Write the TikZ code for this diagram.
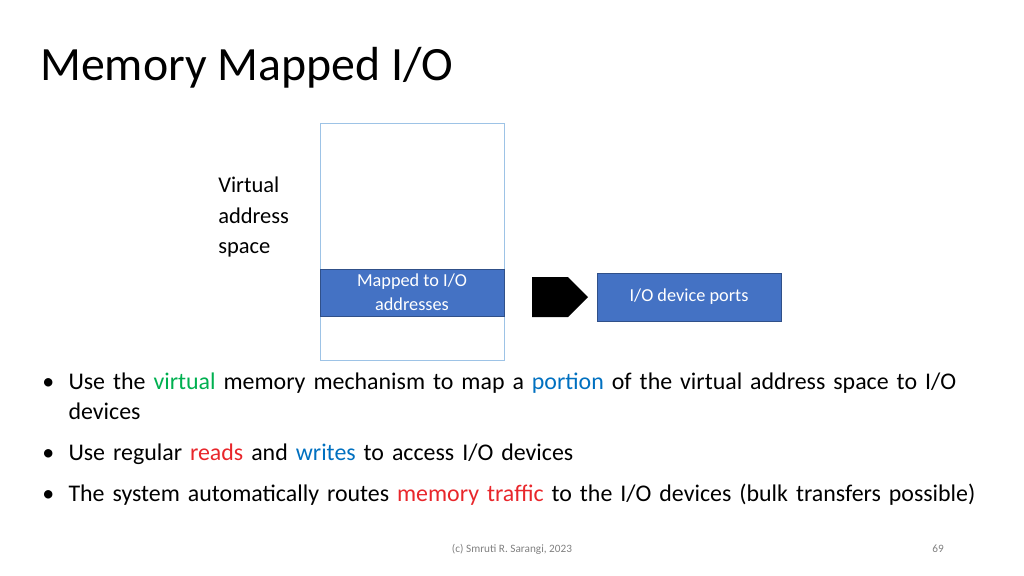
\documentclass[tikz,border=0pt]{standalone}
\usepackage{fontspec}
\setmainfont{Carlito}
\usetikzlibrary{positioning,shapes.arrows}
\definecolor{boxblue}{HTML}{4472C4}
\definecolor{lineblue}{HTML}{9DC3E6}
\definecolor{vgreen}{HTML}{00B050}
\definecolor{pblue}{HTML}{0070C0}
\definecolor{rred}{HTML}{E8262B}
\begin{document}
\begin{tikzpicture}[x=0.025cm,y=0.025cm]
    \tikzset{bullet/.style={anchor=north west,inner sep=0pt,text width=940*0.025cm,align=left,font=\fontsize{17}{21}\selectfont},
             blue box/.style={draw=boxblue!70!black,fill=boxblue,text=white,inner sep=0pt,align=center}}
    \useasboundingbox (0,0) rectangle (1024,-575);
    \node[anchor=west,inner sep=0pt,font=\fontsize{34}{40}\selectfont] (title) at (40,-68) {Memory Mapped I/O};
    \node[draw=lineblue,minimum width=184*0.025cm,minimum height=237*0.025cm,inner sep=0pt] (vas) at (412,-241.5) {};
    \node[blue box,minimum width=184*0.025cm,minimum height=47*0.025cm,font=\fontsize{13}{17}\selectfont] (mapped) at (412,-292.5) {Mapped to I/O\\addresses};
    \node[anchor=north west,inner sep=0pt,align=left,font=\fontsize{16}{21.5}\selectfont] (vlabel) at (218,-177) {Virtual\\address\\space};
    \node[single arrow,fill=black,minimum height=56*0.025cm,minimum width=40*0.025cm,single arrow head extend=0pt,inner sep=0pt] (arr) at (550,-297) {};
    \node[blue box,minimum width=184*0.025cm,minimum height=48*0.025cm,font=\fontsize{13}{17}\selectfont] (ports) at (689,-297) {I/O device ports};
    % bullets
    \node[bullet] (b1) at (42,-373) {\textbullet\hspace{0.6em}\parbox[t]{23cm}{Use the \textcolor{vgreen}{virtual} memory mechanism to map a \textcolor{pblue}{portion} of the virtual address space to I/O devices}};
    \node[bullet] (b2) at (42,-444) {\textbullet\hspace{0.6em}Use regular \textcolor{rred}{reads} and \textcolor{pblue}{writes} to access I/O devices};
    \node[bullet] (b3) at (42,-484) {\textbullet\hspace{0.6em}\parbox[t]{23cm}{The system automatically routes \textcolor{rred}{memory traffic} to the I/O devices (bulk transfers possible)}};
    \node[text=gray,font=\fontsize{8}{10}\selectfont] (foot) at (512,-549) {(c) Smruti R. Sarangi, 2023};
    \node[text=gray,font=\fontsize{8}{10}\selectfont] (page) at (938,-549) {69};
\end{tikzpicture}
\end{document}
